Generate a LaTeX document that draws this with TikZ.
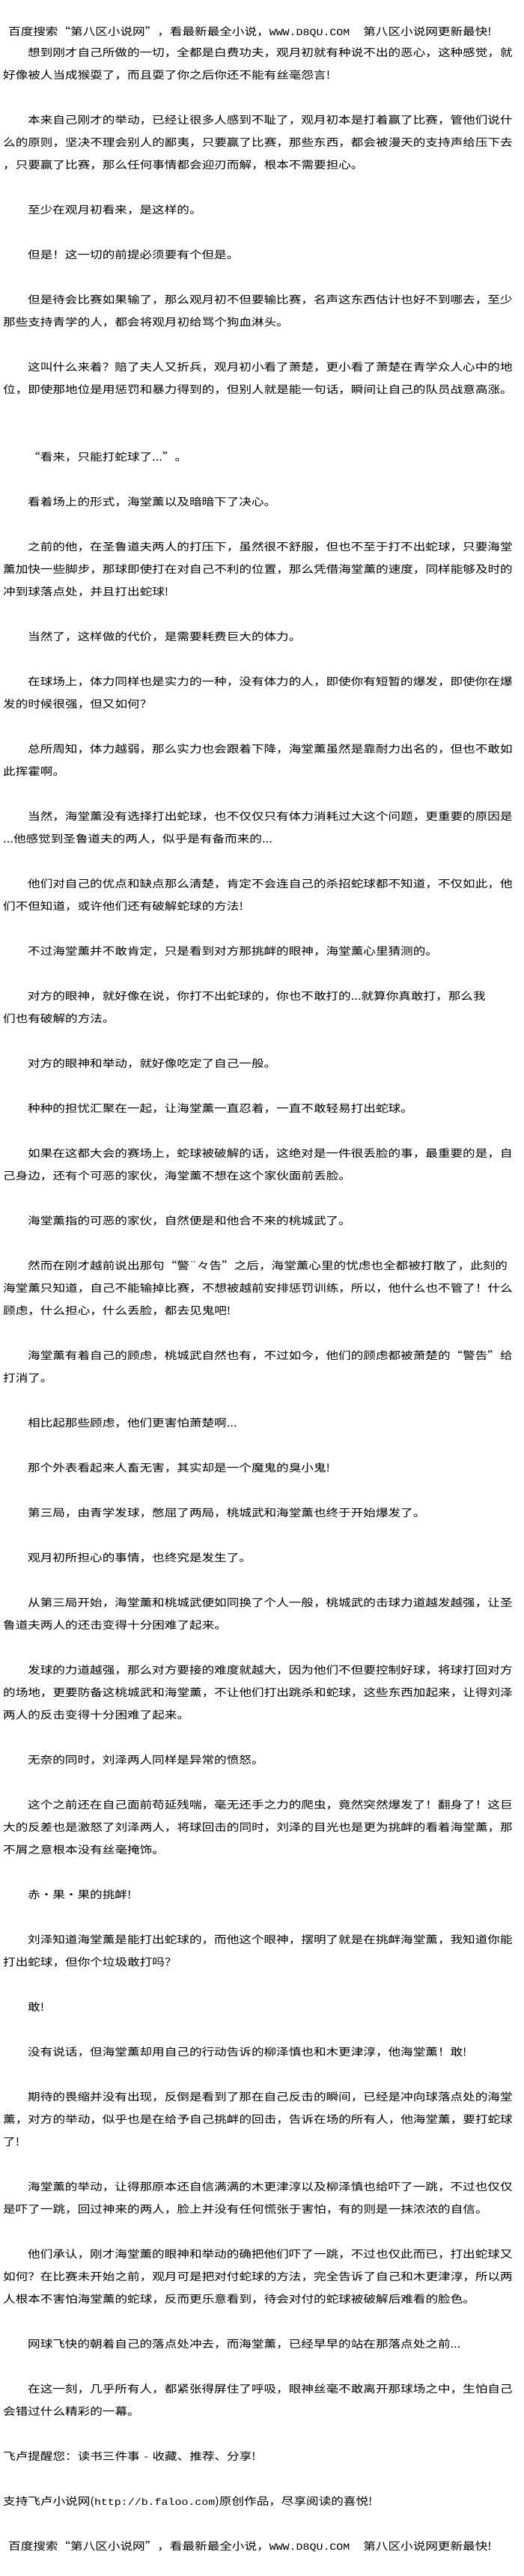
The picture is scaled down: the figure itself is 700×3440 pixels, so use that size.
\documentclass[tikz,border=0pt]{standalone}
\usepackage{fontspec}
\newfontfamily\cjk{Noto Sans CJK SC}
\newfontfamily\mono{Liberation Mono}[Scale=0.9]
\newcommand\indt{\hspace*{33pt}}

\begin{document}
\begin{tikzpicture}[x=1pt,y=-1pt,
	para/.style={anchor=base west, inner sep=0pt, text width=690pt, align=left,
		font=\cjk\fontsize{16.6}{35.3}\selectfont, yscale=.85, transform shape}]

	\useasboundingbox (0,0) rectangle (700,3440);
	\fill[white] (0,0) rectangle (700,3440);

	\node[para] (head) at (11,47) {百度搜索“第八区小说网”，看最新最全小说，{\mono WWW.D8QU.COM}\hspace{18pt}第八区小说网更新最快!};

	\node[para] (p1) at (4,75) {\indt 想到刚才自己所做的一切，全都是白费功夫，观月初就有种说不出的恶心，这种感觉，就\\
		好像被人当成猴耍了，而且耍了你之后你还不能有丝毫怨言!};
	\node[para] (p2) at (4,165) {\indt 本来自己刚才的举动，已经让很多人感到不耻了，观月初本是打着赢了比赛，管他们说什\\
		么的原则，坚决不理会别人的鄙夷，只要赢了比赛，那些东西，都会被漫天的支持声给压下去\\
		，只要赢了比赛，那么任何事情都会迎刃而解，根本不需要担心。};
	\node[para] (p3) at (4,285) {\indt 至少在观月初看来，是这样的。};
	\node[para] (p4) at (4,345) {\indt 但是！这一切的前提必须要有个但是。};
	\node[para] (p5) at (4,405) {\indt 但是待会比赛如果输了，那么观月初不但要输比赛，名声这东西估计也好不到哪去，至少\\
		那些支持青学的人，都会将观月初给骂个狗血淋头。};
	\node[para] (p6) at (4,495) {\indt 这叫什么来着？赔了夫人又折兵，观月初小看了萧楚，更小看了萧楚在青学众人心中的地\\
		位，即使那地位是用惩罚和暴力得到的，但别人就是能一句话，瞬间让自己的队员战意高涨。};
	\node[para] (p7) at (4,615) {\indt “看来，只能打蛇球了...”。};
	\node[para] (p8) at (4,675) {\indt 看着场上的形式，海堂薰以及暗暗下了决心。};
	\node[para] (p9) at (4,735) {\indt 之前的他，在圣鲁道夫两人的打压下，虽然很不舒服，但也不至于打不出蛇球，只要海堂\\
		薰加快一些脚步，那球即使打在对自己不利的位置，那么凭借海堂薰的速度，同样能够及时的\\
		冲到球落点处，并且打出蛇球!};
	\node[para] (p10) at (4,855) {\indt 当然了，这样做的代价，是需要耗费巨大的体力。};
	\node[para] (p11) at (4,915) {\indt 在球场上，体力同样也是实力的一种，没有体力的人，即使你有短暂的爆发，即使你在爆\\
		发的时候很强，但又如何？};
	\node[para] (p12) at (4,1005) {\indt 总所周知，体力越弱，那么实力也会跟着下降，海堂薰虽然是靠耐力出名的，但也不敢如\\
		此挥霍啊。};
	\node[para] (p13) at (4,1095) {\indt 当然，海堂薰没有选择打出蛇球，也不仅仅只有体力消耗过大这个问题，更重要的原因是\\
		...他感觉到圣鲁道夫的两人，似乎是有备而来的...};
	\node[para] (p14) at (4,1185) {\indt 他们对自己的优点和缺点那么清楚，肯定不会连自己的杀招蛇球都不知道，不仅如此，他\\
		们不但知道，或许他们还有破解蛇球的方法!};
	\node[para] (p15) at (4,1275) {\indt 不过海堂薰并不敢肯定，只是看到对方那挑衅的眼神，海堂薰心里猜测的。};
	\node[para] (p16) at (4,1335) {\indt 对方的眼神，就好像在说，你打不出蛇球的，你也不敢打的...就算你真敢打，那么我\\
		们也有破解的方法。};
	\node[para] (p17) at (4,1425) {\indt 对方的眼神和举动，就好像吃定了自己一般。};
	\node[para] (p18) at (4,1485) {\indt 种种的担忧汇聚在一起，让海堂薰一直忍着，一直不敢轻易打出蛇球。};
	\node[para] (p19) at (4,1545) {\indt 如果在这都大会的赛场上，蛇球被破解的话，这绝对是一件很丢脸的事，最重要的是，自\\
		己身边，还有个可恶的家伙，海堂薰不想在这个家伙面前丢脸。};
	\node[para] (p20) at (4,1635) {\indt 海堂薰指的可恶的家伙，自然便是和他合不来的桃城武了。};
	\node[para] (p21) at (4,1695) {\indt 然而在刚才越前说出那句“警¨々告”之后，海堂薰心里的忧虑也全都被打散了，此刻的\\
		海堂薰只知道，自己不能输掉比赛，不想被越前安排惩罚训练，所以，他什么也不管了！什么\\
		顾虑，什么担心，什么丢脸，都去见鬼吧!};
	\node[para] (p22) at (4,1815) {\indt 海堂薰有着自己的顾虑，桃城武自然也有，不过如今，他们的顾虑都被萧楚的“警告”给\\
		打消了。};
	\node[para] (p23) at (4,1905) {\indt 相比起那些顾虑，他们更害怕萧楚啊...};
	\node[para] (p24) at (4,1965) {\indt 那个外表看起来人畜无害，其实却是一个魔鬼的臭小鬼!};
	\node[para] (p25) at (4,2025) {\indt 第三局，由青学发球，憋屈了两局，桃城武和海堂薰也终于开始爆发了。};
	\node[para] (p26) at (4,2085) {\indt 观月初所担心的事情，也终究是发生了。};
	\node[para] (p27) at (4,2145) {\indt 从第三局开始，海堂薰和桃城武便如同换了个人一般，桃城武的击球力道越发越强，让圣\\
		鲁道夫两人的还击变得十分困难了起来。};
	\node[para] (p28) at (4,2235) {\indt 发球的力道越强，那么对方要接的难度就越大，因为他们不但要控制好球，将球打回对方\\
		的场地，更要防备这桃城武和海堂薰，不让他们打出跳杀和蛇球，这些东西加起来，让得刘泽\\
		两人的反击变得十分困难了起来。};
	\node[para] (p29) at (4,2355) {\indt 无奈的同时，刘泽两人同样是异常的愤怒。};
	\node[para] (p30) at (4,2415) {\indt 这个之前还在自己面前苟延残喘，毫无还手之力的爬虫，竟然突然爆发了！翻身了！这巨\\
		大的反差也是激怒了刘泽两人，将球回击的同时，刘泽的目光也是更为挑衅的看着海堂薰，那\\
		不屑之意根本没有丝毫掩饰。};
	\node[para] (p31) at (4,2535) {\indt 赤·果·果的挑衅!};
	\node[para] (p32) at (4,2595) {\indt 刘泽知道海堂薰是能打出蛇球的，而他这个眼神，摆明了就是在挑衅海堂薰，我知道你能\\
		打出蛇球，但你个垃圾敢打吗？};
	\node[para] (p33) at (4,2685) {\indt 敢!};
	\node[para] (p34) at (4,2745) {\indt 没有说话，但海堂薰却用自己的行动告诉的柳泽慎也和木更津淳，他海堂薰！敢!};
	\node[para] (p35) at (4,2805) {\indt 期待的畏缩并没有出现，反倒是看到了那在自己反击的瞬间，已经是冲向球落点处的海堂\\
		薰，对方的举动，似乎也是在给予自己挑衅的回击，告诉在场的所有人，他海堂薰，要打蛇球\\
		了!};
	\node[para] (p36) at (4,2925) {\indt 海堂薰的举动，让得那原本还自信满满的木更津淳以及柳泽慎也给吓了一跳，不过也仅仅\\
		是吓了一跳，回过神来的两人，脸上并没有任何慌张于害怕，有的则是一抹浓浓的自信。};
	\node[para] (p37) at (4,3015) {\indt 他们承认，刚才海堂薰的眼神和举动的确把他们吓了一跳，不过也仅此而已，打出蛇球又\\
		如何？在比赛未开始之前，观月可是把对付蛇球的方法，完全告诉了自己和木更津淳，所以两\\
		人根本不害怕海堂薰的蛇球，反而更乐意看到，待会对付的蛇球被破解后难看的脸色。};
	\node[para] (p38) at (4,3135) {\indt 网球飞快的朝着自己的落点处冲去，而海堂薰，已经早早的站在那落点处之前...};
	\node[para] (p39) at (4,3195) {\indt 在这一刻，几乎所有人，都紧张得屏住了呼吸，眼神丝毫不敢离开那球场之中，生怕自己\\
		会错过什么精彩的一幕。};

	\node[para] (tip) at (4,3285) {飞卢提醒您：读书三件事 - 收藏、推荐、分享!};
	\node[para] (site) at (4,3345) {支持飞卢小说网({\mono http://b.faloo.com})原创作品，尽享阅读的喜悦!};
	\node[para] (foot) at (11,3405) {百度搜索“第八区小说网”，看最新最全小说，{\mono WWW.D8QU.COM}\hspace{18pt}第八区小说网更新最快!};

\end{tikzpicture}
\end{document}
